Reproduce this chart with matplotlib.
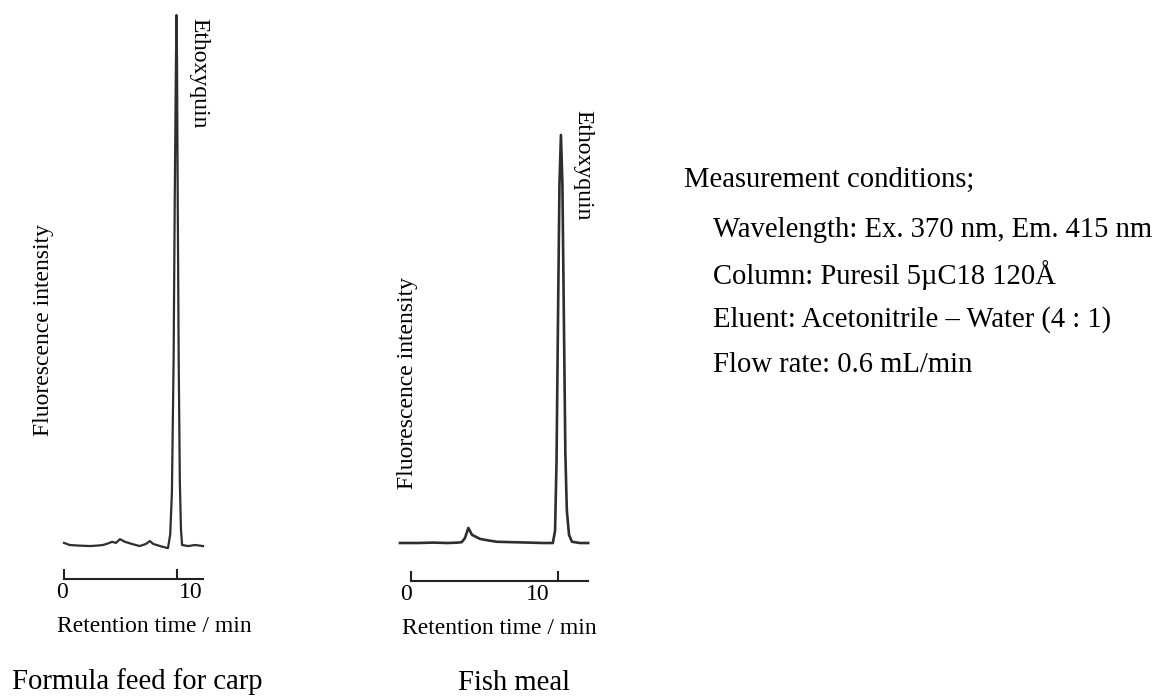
import matplotlib
matplotlib.use("Agg")
import matplotlib.pyplot as plt
import matplotlib.transforms as mtransforms

plt.rcParams['font.family'] = ['Liberation Serif', 'DejaVu Serif']

# ---------------- data ----------------
# Formula feed for carp (time in min, relative fluorescence)
carp_time = [0.0, 0.5, 1.2, 2.3, 3.0, 3.45, 3.9, 4.25, 4.6, 4.95, 5.4, 6.0, 6.7,
             7.25, 7.6, 7.9, 8.5, 9.2, 9.4, 9.55, 9.7, 9.8, 9.9, 9.95, 10.0,
             10.05, 10.15, 10.25, 10.35, 10.45, 11.0, 11.6, 12.3]
carp_signal = [0.4, 0.0, -0.1, -0.2, -0.1, 0.0, 0.3, 0.6, 0.4, 1.1, 0.6, 0.2, -0.2,
               0.2, 0.75, 0.2, -0.2, -0.6, 2.0, 10.0, 35.0, 65.0, 90.0, 100.0, 92.0,
               70.0, 35.0, 12.0, 3.0, 0.0, -0.2, 0.0, -0.2]

# Fish meal
fish_time = [-0.75, 0.5, 1.5, 2.5, 3.2, 3.45, 3.67, 3.9, 4.15, 4.7, 5.3, 5.85,
             6.9, 8.0, 9.0, 9.65, 9.8, 9.9, 10.0, 10.1, 10.2, 10.3, 10.4, 10.5,
             10.6, 10.75, 10.95, 11.5, 12.05]
fish_signal = [0.0, 0.0, 0.1, 0.0, 0.1, 0.2, 1.2, 3.7, 2.0, 1.0, 0.6, 0.3,
               0.2, 0.1, 0.0, 0.0, 3.0, 20.0, 55.0, 88.0, 100.0, 88.0, 55.0, 22.0,
               8.0, 2.0, 0.3, 0.0, 0.0]

tick_values = [0, 10]
tick_labels = ["0", "10"]
peak_name = "Ethoxyquin"
y_title = "Fluorescence intensity"
x_title = "Retention time / min"
panel_titles = ["Formula feed for carp", "Fish meal"]
conditions_head = "Measurement conditions;"
conditions = ["Wavelength: Ex. 370 nm, Em. 415 nm",
              "Column: Puresil 5\u00b5C18 120\u00c5",
              "Eluent: Acetonitrile \u2013 Water (4 : 1)",
              "Flow rate: 0.6 mL/min"]

# ---------------- layout ----------------
W, H = 1163, 700
fig = plt.figure(figsize=(W / 100, H / 100), dpi=100)
fig.patch.set_facecolor('white')

SMALL = 17
BIG = 20.6


def fx(x):
    return x / W


def fy(y):
    return 1 - y / H


def make_axes(left, right, top, bottom, px_per_min, zero_px, base_px, px_per_unit,
              axis_px, x_end, label_dx):
    ax = fig.add_axes([fx(left), fy(bottom), (right - left) / W, (bottom - top) / H])
    ax.set_xlim((left - zero_px) / px_per_min, (right - zero_px) / px_per_min)
    ax.set_ylim((base_px - bottom) / px_per_unit, (base_px - top) / px_per_unit)
    for s in ['top', 'left', 'right']:
        ax.spines[s].set_visible(False)
    ax.spines['bottom'].set_position(('data', (base_px - axis_px) / px_per_unit))
    ax.spines['bottom'].set_bounds(0, x_end)
    ax.spines['bottom'].set_linewidth(1.5)
    ax.spines['bottom'].set_color('#222222')
    ax.set_yticks([])
    ax.set_xticks(tick_values, tick_labels)
    ax.tick_params(axis='x', direction='in', length=7, width=1.5, color='#222222',
                   labelsize=SMALL, pad=2.5)
    ax.patch.set_alpha(0)
    for lab, dx in zip(ax.get_xticklabels(), label_dx):
        off = mtransforms.ScaledTranslation(dx / 100, 0, fig.dpi_scale_trans)
        lab.set_transform(lab.get_transform() + off)
    return ax


axL = make_axes(40, 240, 10, 590, 11.3, 64, 545, 5.3, 579, 12.3, [-2, 14])
axL.plot(carp_time, carp_signal, color='#2e2e2e', lw=1.6, solid_joinstyle='round')

axR = make_axes(385, 620, 100, 595, 14.7, 411, 543, 4.08, 581, 12.05, [-5, -20])
axR.plot(fish_time, fish_signal, color='#2e2e2e', lw=1.9, solid_joinstyle='round')

# texts
fig.text(fx(199), fy(18), peak_name, rotation=-90, ha='center', va='top', fontsize=SMALL)
fig.text(fx(583), fy(110), peak_name, rotation=-90, ha='center', va='top', fontsize=SMALL)

fig.text(fx(44), fy(330), y_title, rotation=90, ha='center', va='center', fontsize=SMALL)
fig.text(fx(407), fy(383), y_title, rotation=90, ha='center', va='center', fontsize=SMALL)

fig.text(fx(57), fy(626), x_title, ha='left', va='center', fontsize=SMALL)
fig.text(fx(402), fy(628), x_title, ha='left', va='center', fontsize=SMALL)

fig.text(fx(12), fy(682), panel_titles[0], ha='left', va='center', fontsize=BIG)
fig.text(fx(514), fy(683), panel_titles[1], ha='center', va='center', fontsize=BIG)

fig.text(fx(684), fy(180), conditions_head, ha='left', va='center', fontsize=BIG)
for i, line in enumerate(conditions):
    fig.text(fx(713), fy(230 + 45 * i), line, ha='left', va='center', fontsize=BIG)

fig.savefig("out.png", dpi=100, facecolor='white')
